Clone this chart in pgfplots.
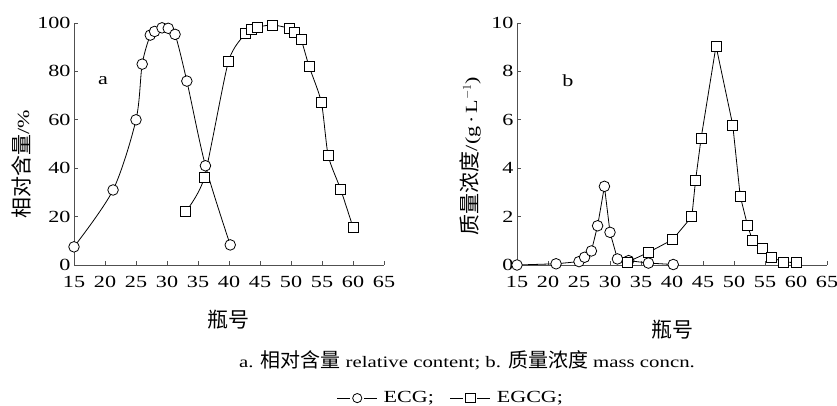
\documentclass[border=0pt]{standalone}
\usepackage{pgfplots}
\pgfplotsset{compat=1.18}
\usepackage{fontspec}
\setmainfont{Liberation Serif}[FakeStretch=1.3]
\newfontfamily\cjk{Noto Sans CJK SC}
\definecolor{axgray}{RGB}{80,80,80}
\newcommand{\tfont}{\fontsize{17}{20}\selectfont}
\newcommand{\zh}[1]{{\cjk\fontsize{21}{24}\selectfont #1}}
\newcommand{\zhc}[1]{{\cjk\fontsize{20}{24}\selectfont #1}}
\pgfplotsset{
  myax/.style={
    scale only axis, width=310pt, height=242pt,
    xmin=15, xmax=65, ymin=0,
    axis x line=bottom, axis y line=left,
    axis line style={-, axgray, line width=0.8pt},
    tick style={axgray, line width=0.8pt},
    tick align=inside, major tick length=4pt,
    xtick={15,20,...,65},
    /pgf/number format/assume math mode=true,
    tick label style={font=\tfont},
    xticklabel style={yshift=-7.5pt},
    clip=false,
  },
  ecg/.style={black, line width=0.8pt, mark=*, mark size=5.3pt, mark options={fill=white, line width=0.8pt}},
  egcg/.style={black, line width=0.8pt, mark=square*, mark size=5pt, mark options={fill=white, line width=0.8pt}},
}
\begin{document}
\begin{tikzpicture}
\path[use as bounding box] (0pt,0pt) rectangle (837pt,406pt);
\begin{axis}[myax, at={(74pt,141pt)}, anchor=south west, ymax=100, ytick={0,20,...,100}]
\addplot[ecg, smooth, tension=0.5] coordinates {(15,7.5)(21.3,31)(25,60)(26,83)(27.3,95)(28,96.5)(29.2,98)(30.2,97.8)(31.3,95.3)(33.2,76)(36.2,41)(40.2,8.3)};
\addplot[egcg, smooth, tension=0.4] coordinates {(33,22)(36,36)(39.9,84)(42.7,95.7)(43.6,97.5)(44.6,98.3)(47,99.2)(49.7,97.8)(50.6,96.1)(51.6,93.4)(52.9,82.2)(54.9,67.2)(56,45.2)(58,31.3)(60,15.6)};
\node[font=\tfont] at (axis cs:19.7,76) {a};
\end{axis}
\begin{axis}[myax, at={(517pt,141pt)}, anchor=south west, ymax=10, ytick={0,2,...,10},
  legend style={at={(-0.213,-0.55)}, anchor=center, draw=none, fill=none, legend columns=2, font=\tfont,
    /tikz/every odd column/.append style={column sep=4pt},
    /tikz/every even column/.append style={column sep=14pt}},
  legend image code/.code={\draw[#1, mark=none] (0pt,0pt) -- (13pt,0pt); \draw[#1, mark=none] (27pt,0pt) -- (40pt,0pt); \draw[#1, only marks, mark size=4.6pt] plot coordinates {(20pt,0pt)};}]
\addplot[ecg] coordinates {(15,0)(21.3,0.05)(25,0.14)(25.9,0.32)(27,0.58)(28,1.62)(29.1,3.25)(30,1.35)(31.2,0.25)(33,0.18)(36.2,0.08)(40.2,0.02)};
\addplot[egcg] coordinates {(32.8,0.12)(36.2,0.52)(40.1,1.05)(43.2,2.0)(43.8,3.5)(44.7,5.25)(47.1,9.05)(49.8,5.78)(51,2.85)(52.2,1.62)(53,1.0)(54.6,0.7)(56,0.32)(58,0.12)(60,0.1)};
\node[font=\tfont] at (axis cs:23.2,7.6) {b};
\legend{ECG;, EGCG;}
\end{axis}
\node[rotate=90, font=\tfont] at (21pt,242pt) {\zh{相对含量}/\%};
\node[rotate=90, font=\tfont] at (470pt,250pt) {\zh{质量浓度}/(g\,·\,L$^{-1}$)};
\node[font=\tfont] at (228pt,86pt) {\zh{瓶号}};
\node[font=\tfont] at (672pt,76pt) {\zh{瓶号}};
\node[font=\fontsize{16}{20}\selectfont] at (467pt,46pt) {a. \zhc{相对含量} relative content; b. \zhc{质量浓度} mass concn.};
\end{tikzpicture}
\end{document}
